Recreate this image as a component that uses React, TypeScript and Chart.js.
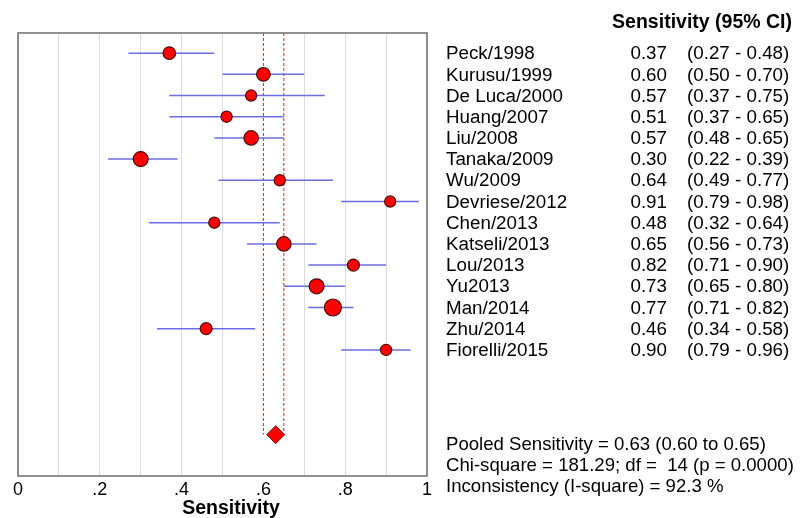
import React, { useEffect, useRef } from "react";
import { Chart, registerables } from "chart.js";

Chart.register(...registerables);

const studies = [
  "Peck/1998", "Kurusu/1999", "De Luca/2000", "Huang/2007", "Liu/2008",
  "Tanaka/2009", "Wu/2009", "Devriese/2012", "Chen/2013", "Katseli/2013",
  "Lou/2013", "Yu2013", "Man/2014", "Zhu/2014", "Fiorelli/2015",
];
const sensitivity = [0.37, 0.60, 0.57, 0.51, 0.57, 0.30, 0.64, 0.91, 0.48, 0.65, 0.82, 0.73, 0.77, 0.46, 0.90];
const ciLow = [0.27, 0.50, 0.37, 0.37, 0.48, 0.22, 0.49, 0.79, 0.32, 0.56, 0.71, 0.65, 0.71, 0.34, 0.79];
const ciHigh = [0.48, 0.70, 0.75, 0.65, 0.65, 0.39, 0.77, 0.98, 0.64, 0.73, 0.90, 0.80, 0.82, 0.58, 0.96];
// relative study weight (marker size)
const studyWeight = [6.3, 6.8, 5.6, 5.6, 7.2, 7.5, 5.6, 5.6, 5.6, 7.2, 6.0, 7.5, 8.5, 6.0, 5.6];

const pooledValue = 0.63;
const pooledLow = 0.60;
const pooledHigh = 0.65;
const pooledRow = 18;

const xTickValues = [0, 0.2, 0.4, 0.6, 0.8, 1];
const xTickLabels = ["0", ".2", ".4", ".6", ".8", "1"];

const headerText = "Sensitivity (95% CI)";
const xAxisTitle = "Sensitivity";
const summaryLines = [
  "Pooled Sensitivity = 0.63 (0.60 to 0.65)",
  "Chi-square = 181.29; df =  14 (p = 0.0000)",
  "Inconsistency (I-square) = 92.3 %",
];

const FONT = "'Liberation Sans', Arial, sans-serif";

const textPlugin = {
  id: "forestText",
  afterDraw(chart: any) {
    const ctx = chart.ctx;
    const y = chart.scales.y;
    const area = chart.chartArea;
    ctx.save();
    // plot border
    ctx.strokeStyle = "#6e6e6e";
    ctx.lineWidth = 1.5;
    ctx.strokeRect(area.left, area.top, area.right - area.left, area.bottom - area.top);

    ctx.fillStyle = "#000";
    ctx.textBaseline = "middle";
    // header
    ctx.font = `bold 19.5px ${FONT}`;
    ctx.textAlign = "right";
    ctx.fillText(headerText, 792, 23);
    // rows
    ctx.font = `18.8px ${FONT}`;
    studies.forEach((name, i) => {
      const py = y.getPixelForValue(i) + 1;
      ctx.textAlign = "left";
      ctx.fillText(name, 446, py);
      ctx.textAlign = "right";
      ctx.fillText(sensitivity[i].toFixed(2), 667, py);
      ctx.textAlign = "left";
      ctx.fillText(`(${ciLow[i].toFixed(2)} - ${ciHigh[i].toFixed(2)})`, 687, py);
    });
    // summary
    ctx.textAlign = "left";
    ctx.font = `18.6px ${FONT}`;
    summaryLines.forEach((line, k) => {
      ctx.fillText(line, 446, 445 + k * 21);
    });
    // x axis title
    ctx.font = `bold 19.5px ${FONT}`;
    ctx.textAlign = "center";
    ctx.fillText(xAxisTitle, 231, 509);
    ctx.restore();
  },
};

export default function App() {
  const ref = useRef<HTMLCanvasElement | null>(null);
  useEffect(() => {
    if (!ref.current) return;
    const datasets: any[] = [];
    // pooled CI dashed lines
    [pooledLow, pooledHigh].forEach((v) => {
      datasets.push({
        type: "line",
        data: [{ x: v, y: -0.95 }, { x: v, y: pooledRow }],
        borderColor: "#e02020",
        borderWidth: 1,
        borderDash: [3, 2],
        pointRadius: 0,
        order: 3,
      });
    });
    // CI lines
    studies.forEach((_, i) => {
      datasets.push({
        type: "line",
        data: [{ x: ciLow[i], y: i }, { x: ciHigh[i], y: i }],
        borderColor: "rgba(100,100,225,0.95)",
        borderWidth: 1.5,
        pointRadius: 0,
        order: 2,
      });
    });
    // study markers
    datasets.push({
      type: "scatter",
      data: sensitivity.map((v, i) => ({ x: v, y: i })),
      pointRadius: studyWeight,
      backgroundColor: "#ff0000",
      borderColor: "#4a0c0c",
      borderWidth: 1.2,
      order: 1,
    });
    // pooled diamond
    datasets.push({
      type: "scatter",
      data: [{ x: pooledValue, y: pooledRow }],
      pointStyle: "rectRot",
      pointRadius: 9,
      backgroundColor: "#ff0000",
      borderColor: "#7a1010",
      borderWidth: 1,
      order: 0,
    });

    const chart = new Chart(ref.current, {
      type: "scatter",
      data: { datasets },
      options: {
        animation: false,
        responsive: false,
        devicePixelRatio: 1,
        layout: { padding: { left: 18, right: 377, top: 33, bottom: 0 } },
        plugins: { legend: { display: false }, tooltip: { enabled: false } },
        scales: {
          x: {
            type: "linear",
            min: 0,
            max: 1,
            afterFit: (s: any) => { s.height = 42; },
            border: { display: false },
            grid: {
              color: (c: any) =>
                c.tick && Math.abs(c.tick.value - pooledLow) < 1e-6 ? "rgba(0,0,0,0)" : "#dcdcdc",
              lineWidth: 1,
              drawTicks: false,
            },
            ticks: {
              stepSize: 0.1,
              autoSkip: false,
              maxRotation: 0,
              padding: 3,
              color: "#000",
              font: { family: FONT, size: 18 },
              callback: (val: any) => {
                const v = Number(val);
                const idx = xTickValues.findIndex((t) => Math.abs(t - v) < 1e-6);
                return idx >= 0 ? xTickLabels[idx] : "";
              },
            },
          },
          y: {
            type: "linear",
            min: -0.95,
            max: 19.95,
            reverse: true,
            display: false,
          },
        },
      },
      plugins: [textPlugin],
    } as any);
    return () => chart.destroy();
  }, []);

  return (
    <div style={{ position: "fixed", left: 0, top: 0, width: 804, height: 518, background: "#fff" }}>
      <canvas ref={ref} width={804} height={518} style={{ display: "block" }} />
    </div>
  );
}
